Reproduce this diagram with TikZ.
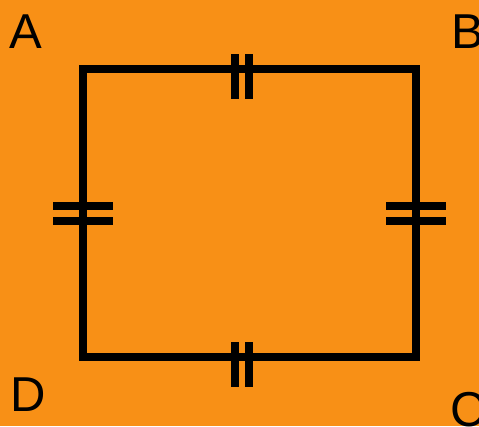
\documentclass[tikz,border=0pt]{standalone}
\usepackage{fontspec}
\setmainfont{Liberation Sans}
\definecolor{bgorange}{RGB}{248,144,22}
\tikzset{
  edge/.style={line width=8pt, line join=miter, black},
  tick/.style={line width=8pt, black},
  vlabel/.style={font=\fontsize{49}{49}\selectfont, inner sep=0pt, anchor=base}
}
\begin{document}
\begin{tikzpicture}[x=1pt,y=-1pt]
\fill[bgorange] (0,0) rectangle (479,426);
\useasboundingbox (0,0) rectangle (479,426);
\coordinate (pA) at (83,69);
\coordinate (pB) at (416,69);
\coordinate (pC) at (416,357);
\coordinate (pD) at (83,357);
\draw[edge] (pA) -- (pB) -- (pC) -- (pD) -- cycle;
% top ticks
\draw[tick] (235,54) -- (235,99);
\draw[tick] (249,54) -- (249,99);
% bottom ticks
\draw[tick] (235,342) -- (235,387);
\draw[tick] (249,342) -- (249,387);
% left ticks
\draw[tick] (53,205.5) -- (113,205.5);
\draw[tick] (53,220.5) -- (113,220.5);
% right ticks
\draw[tick] (386,205.5) -- (446,205.5);
\draw[tick] (386,220.5) -- (446,220.5);
\node[vlabel] (lA) at (26,48) {A};
\node[vlabel] (lB) at (467.5,48) {B};
\node[vlabel] (lD) at (28,411) {D};
\node[vlabel] (lC) at (468,426) {C};
\end{tikzpicture}
\end{document}
